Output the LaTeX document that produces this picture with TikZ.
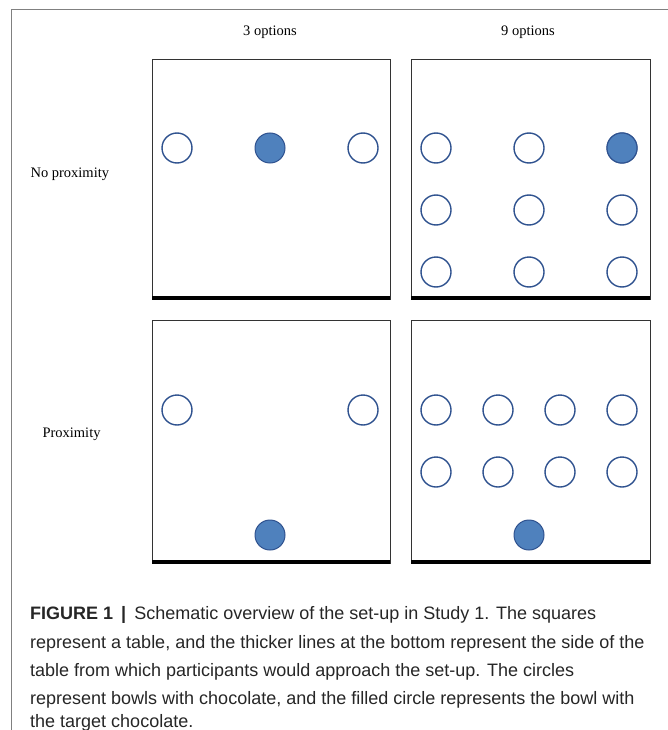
\documentclass[tikz,border=0pt]{standalone}
\usepackage{fontspec}
\setmainfont{Liberation Serif}
\newfontfamily\capfont{Liberation Sans}
\usetikzlibrary{positioning}

\definecolor{bowlline}{HTML}{2F528F}
\definecolor{bowlfill}{HTML}{4F81BD}
\tikzset{
  bowl/.style={draw=bowlline, line width=1.4pt, fill=white},
  target/.style={draw=bowlline, line width=1pt, fill=bowlfill},
  tabletop/.style={draw=black!80, line width=0.8pt},
  approach/.style={line width=4pt},
  head/.style={font=\fontsize{14.5}{17}\selectfont},
  caprow/.style={anchor=base west, inner sep=0pt, font=\capfont\fontsize{18}{22}\selectfont, text=black!85},
}

\begin{document}
\begin{tikzpicture}[x=1pt,y=-1pt]
\useasboundingbox (0,0) rectangle (668,730);
\draw[black!50] (11,730) -- (11,9) -- (668,9);

% headings
\node[head] (three) at (270,32) {3 options};
\node[head] (nine) at (528,32) {9 options};
\node[head, anchor=west] (noprox) at (27,174) {No proximity};
\node[head, anchor=west] (prox) at (39,434) {Proximity};

% tables
\draw[tabletop] (152,59) rectangle (390,299);
\draw[tabletop] (411,59) rectangle (650,299);
\draw[tabletop] (152,320) rectangle (390,563);
\draw[tabletop] (411,320) rectangle (650,563);
\draw[approach] (152,298) -- (390,298);
\draw[approach] (411,298) -- (650,298);
\draw[approach] (152,562) -- (390,562);
\draw[approach] (411,562) -- (650,562);

% no proximity, 3 options
\draw[bowl] (177,148) circle (15pt);
\draw[target] (270,148) circle (15pt);
\draw[bowl] (363,148) circle (15pt);

% no proximity, 9 options
\foreach \y in {148,210,272}
  \foreach \x in {436,529,622}
    \draw[bowl] (\x,\y) circle (15pt);
\draw[target] (622,148) circle (15pt);

% proximity, 3 options
\draw[bowl] (177,410) circle (15pt);
\draw[bowl] (363,410) circle (15pt);
\draw[target] (270,535) circle (15pt);

% proximity, 9 options
\foreach \y in {410,472}
  \foreach \x in {436,498,560,622}
    \draw[bowl] (\x,\y) circle (15pt);
\draw[target] (529,535) circle (15pt);

% caption
\node[caprow] (cap1) at (30,619) {\textbf{FIGURE 1 \,|\,} Schematic overview of the set-up in Study 1. The squares};
\node[caprow] (cap2) at (30,648) {represent a table, and the thicker lines at the bottom represent the side of the};
\node[caprow] (cap3) at (30,676) {table from which participants would approach the set-up. The circles};
\node[caprow] (cap4) at (30,704) {represent bowls with chocolate, and the filled circle represents the bowl with};
\node[caprow] (cap5) at (30,727) {the target chocolate.};
\end{tikzpicture}
\end{document}
